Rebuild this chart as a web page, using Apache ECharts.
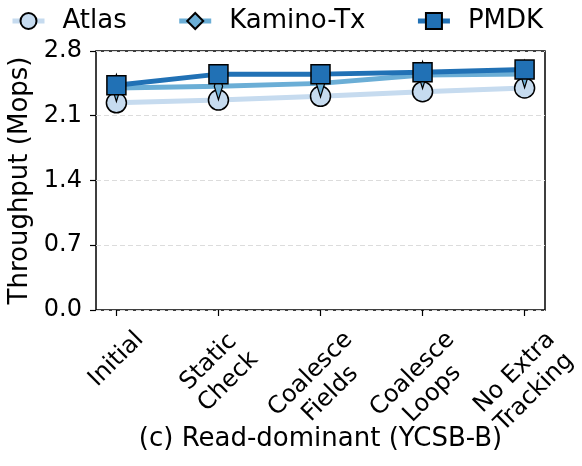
<!DOCTYPE html>
<html>
<head>
<meta charset="utf-8">
<script src="https://cdn.jsdelivr.net/npm/echarts@6/dist/echarts.min.js"></script>
<style>
  html, body { margin: 0; padding: 0; background: #fff; }
  #chart { width: 582px; height: 466px; }
</style>
</head>
<body>
<div id="chart"></div>
<script>
// stages of the optimisation
const categories = ['Initial', 'Static\nCheck', 'Coalesce\nFields', 'Coalesce\nLoops', 'No Extra\nTracking']
const atlas = [2.24, 2.27, 2.31, 2.36, 2.40]
const kamino = [2.40, 2.42, 2.45, 2.54, 2.55]
const pmdk = [2.43, 2.55, 2.55, 2.57, 2.60]
const yTicks = [0, 0.7, 1.4, 2.1, 2.8]

const font = 'DejaVu Sans'
const labelSize = 24
const labelLine = 28
const thinDiamond = 'path://M0,-1.8L1,0L0,1.8L-1,0Z'

function makeSeries(name, values, color, symbol, size, z) {
  return {
    name: name,
    type: 'line',
    xAxisIndex: 1,
    yAxisIndex: 1,
    data: values,
    symbol: symbol,
    symbolSize: size,
    symbolKeepAspect: true,
    z: z,
    lineStyle: { color: color, width: 5 },
    itemStyle: { color: color, borderColor: '#000', borderWidth: 1.5, opacity: 1 },
    emphasis: { disabled: true }
  }
}

const chart = echarts.init(document.getElementById('chart'))
chart.setOption({
  backgroundColor: 'white',
  animation: false,
  textStyle: { fontFamily: font },
  legend: {
    top: 3,
    left: 5,
    itemWidth: 32,
    itemHeight: 20,
    itemGap: 50,
    lineStyle: { width: 5 },
    textStyle: { fontSize: 26, color: '#000', fontFamily: font, padding: [0, 0, 0, 13] },
    data: ['Atlas', 'Kamino-Tx', 'PMDK']
  },
  grid: [
    // frame, y ticks and grid lines
    {
      left: 96, right: 37, top: 51, bottom: 156,
      outerBoundsMode: 'none',
      show: true, borderColor: '#000', borderWidth: 1.5
    },
    // data area, matplotlib keeps 5% margin on each side
    { left: 116.4, right: 57.4, top: 51, bottom: 156, outerBoundsMode: 'none' }
  ],
  xAxis: [
    { gridIndex: 0, type: 'value', min: 0, max: 1, show: false },
    {
      gridIndex: 1,
      type: 'category',
      boundaryGap: false,
      data: categories,
      name: '(c) Read-dominant (YCSB-B)',
      nameLocation: 'middle',
      nameGap: 116,
      nameTextStyle: { fontSize: 26, color: '#000', fontFamily: font },
      axisLine: { show: false },
      splitLine: { show: false },
      axisTick: { show: true, length: 6, interval: 0, lineStyle: { color: '#000', width: 1.2 } },
      axisLabel: { show: false }
    }
  ],
  yAxis: [
    {
      gridIndex: 0,
      type: 'value',
      min: 0,
      max: 2.8,
      interval: 0.7,
      name: 'Throughput (Mops)',
      nameLocation: 'middle',
      nameGap: 61,
      nameTextStyle: { fontSize: 26, color: '#000', fontFamily: font },
      axisLine: { show: false },
      axisTick: { show: true, length: 6, lineStyle: { color: '#000', width: 1.2 } },
      axisLabel: {
        fontSize: labelSize,
        color: '#000',
        margin: 14,
        formatter: function (v) {
          const t = yTicks.find(function (x) { return Math.abs(x - v) < 1e-6 })
          return (t === undefined ? v : t).toFixed(1)
        }
      },
      splitLine: { show: true, lineStyle: { color: '#dcdcdc', type: [5, 3], width: 1 } }
    },
    { gridIndex: 1, type: 'value', min: 0, max: 2.8, show: false }
  ],
  series: [
    makeSeries('Atlas', atlas, '#c6dbef', 'circle', 20, 2),
    makeSeries('Kamino-Tx', kamino, '#6baed6', thinDiamond, [15, 27], 3),
    makeSeries('PMDK', pmdk, '#2171b5', 'rect', 19, 4)
  ]
})

// 45deg tick labels the matplotlib way: rotated box centred under the tick
const ctx = document.createElement('canvas').getContext('2d')
ctx.font = labelSize + 'px "' + font + '"'
const labels = categories.map(function (text, i) {
  const lines = text.split('\n')
  let w = 0
  lines.forEach(function (l) { w = Math.max(w, ctx.measureText(l).width) })
  const h = lines.length * labelLine
  const p = chart.convertToPixel({ gridIndex: 1 }, [i, 0])
  return {
    type: 'text',
    x: p[0],
    y: p[1] + 16 + (w + h) * 0.3536,
    rotation: Math.PI / 4,
    silent: true,
    style: {
      text: text,
      fontSize: labelSize,
      fontFamily: font,
      lineHeight: labelLine,
      fill: '#000',
      align: 'center',
      verticalAlign: 'middle'
    }
  }
})
chart.setOption({ graphic: labels })
</script>
</body>
</html>
